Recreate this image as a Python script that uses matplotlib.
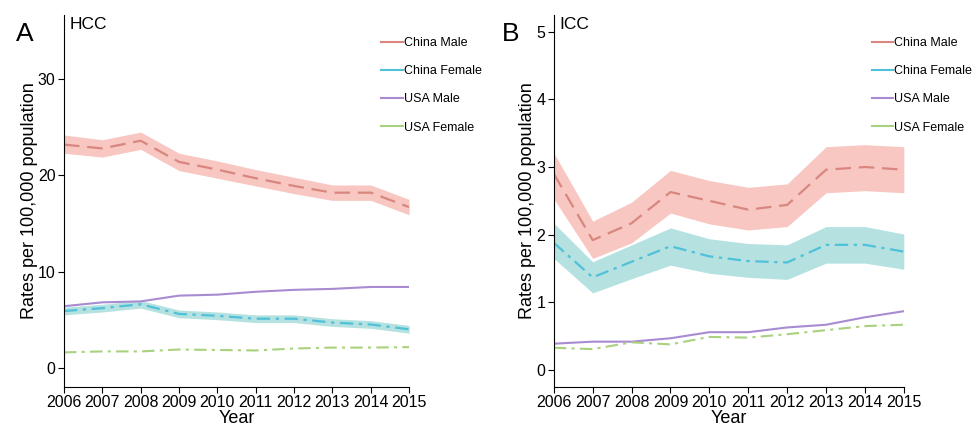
import numpy as np
import matplotlib.pyplot as plt

plt.rcParams['font.family'] = ['Liberation Sans', 'DejaVu Sans']

years = [2006, 2007, 2008, 2009, 2010, 2011, 2012, 2013, 2014, 2015]
labels = ['China Male', 'China Female', 'USA Male', 'USA Female']

# HCC (panel A)
hcc_cn_male = [23.2, 22.8, 23.6, 21.4, 20.6, 19.7, 18.9, 18.2, 18.2, 16.7]
hcc_cn_male_lo = [22.3, 21.9, 22.7, 20.5, 19.7, 18.9, 18.1, 17.4, 17.4, 15.9]
hcc_cn_male_hi = [24.2, 23.7, 24.5, 22.3, 21.5, 20.6, 19.8, 19.0, 19.0, 17.5]
hcc_cn_female = [5.9, 6.2, 6.6, 5.6, 5.4, 5.1, 5.1, 4.7, 4.5, 4.0]
hcc_cn_female_lo = [5.5, 5.8, 6.2, 5.2, 5.0, 4.7, 4.7, 4.3, 4.1, 3.6]
hcc_cn_female_hi = [6.3, 6.6, 7.0, 6.0, 5.8, 5.5, 5.5, 5.1, 4.9, 4.4]
hcc_us_male = [6.4, 6.8, 6.9, 7.5, 7.6, 7.9, 8.1, 8.2, 8.4, 8.4]
hcc_us_female = [1.6, 1.7, 1.7, 1.9, 1.85, 1.8, 2.0, 2.1, 2.1, 2.15]

# ICC (panel B)
icc_cn_male = [2.9, 1.92, 2.17, 2.63, 2.50, 2.37, 2.44, 2.96, 3.0, 2.96]
icc_cn_male_lo = [2.53, 1.65, 1.88, 2.32, 2.16, 2.07, 2.12, 2.62, 2.65, 2.62]
icc_cn_male_hi = [3.21, 2.2, 2.48, 2.95, 2.80, 2.70, 2.75, 3.30, 3.33, 3.30]
icc_cn_female = [1.88, 1.37, 1.6, 1.83, 1.68, 1.61, 1.59, 1.85, 1.85, 1.75]
icc_cn_female_lo = [1.65, 1.14, 1.35, 1.55, 1.43, 1.37, 1.34, 1.58, 1.58, 1.49]
icc_cn_female_hi = [2.17, 1.6, 1.85, 2.1, 1.94, 1.87, 1.85, 2.12, 2.12, 2.01]
icc_us_male = [0.39, 0.42, 0.42, 0.47, 0.56, 0.56, 0.63, 0.67, 0.78, 0.87]
icc_us_female = [0.33, 0.31, 0.41, 0.38, 0.49, 0.48, 0.53, 0.59, 0.65, 0.67]

red, red_band = '#d98680', '#f7bdb6'
cyan, cyan_band = '#4fc1d9', '#a8dcdc'
purple = '#a88bd1'
green = '#a9d27f'


def panel(ax, cm, cm_lo, cm_hi, cf, cf_lo, cf_hi, um, uf):
    ax.fill_between(years, cm_lo, cm_hi, color=red_band, lw=0, alpha=0.85)
    ax.fill_between(years, cf_lo, cf_hi, color=cyan_band, lw=0, alpha=0.85)
    ax.plot(years, cm, color=red, lw=1.6, dashes=(7, 3.5))
    ax.plot(years, cf, color=cyan, lw=1.6, dashes=(6, 2.5, 1.5, 2.5))
    ax.plot(years, um, color=purple, lw=1.5)
    ax.plot(years, uf, color=green, lw=1.5, dashes=(6, 2.5, 1.5, 2.5))
    ax.set_xlim(2006, 2015)
    ax.set_xticks(years)
    ax.spines['top'].set_visible(False)
    ax.spines['right'].set_visible(False)
    ax.tick_params(direction='out', length=4, labelsize=11.5, pad=2)
    ax.set_xlabel('Year', fontsize=13, labelpad=0)
    ax.set_ylabel('Rates per 100,000 population', fontsize=13, labelpad=0)
    handles = [plt.Line2D([], [], color=c, lw=1.5) for c in [red, cyan, purple, green]]
    return handles


fig = plt.figure(figsize=(9.75, 4.26), dpi=100)
axA = fig.add_axes([0.0656, 0.0915, 0.354, 0.874])
axB = fig.add_axes([0.568, 0.0915, 0.359, 0.874])

leg_kw = dict(loc='upper left', frameon=False, fontsize=9, handlelength=1.7,
              handletextpad=0.1, labelspacing=1.3, borderaxespad=0)

h = panel(axA, hcc_cn_male, hcc_cn_male_lo, hcc_cn_male_hi,
          hcc_cn_female, hcc_cn_female_lo, hcc_cn_female_hi,
          hcc_us_male, hcc_us_female)
axA.set_ylim(-2, 36.7)
axA.set_yticks([0, 10, 20, 30])
axA.text(0.015, 0.995, 'HCC', transform=axA.transAxes, fontsize=12.5, va='top')
fig.text(0.016, 0.904, 'A', fontsize=19)
fig.legend(h, labels, bbox_to_anchor=(0.386, 0.925), **leg_kw)

h = panel(axB, icc_cn_male, icc_cn_male_lo, icc_cn_male_hi,
          icc_cn_female, icc_cn_female_lo, icc_cn_female_hi,
          icc_us_male, icc_us_female)
axB.set_ylim(-0.25, 5.25)
axB.set_yticks([0, 1, 2, 3, 4, 5])
axB.text(0.015, 0.995, 'ICC', transform=axB.transAxes, fontsize=12.5, va='top')
fig.text(0.515, 0.904, 'B', fontsize=19)
fig.legend(h, labels, bbox_to_anchor=(0.889, 0.925), **leg_kw)

fig.savefig('out.png', dpi=100)
